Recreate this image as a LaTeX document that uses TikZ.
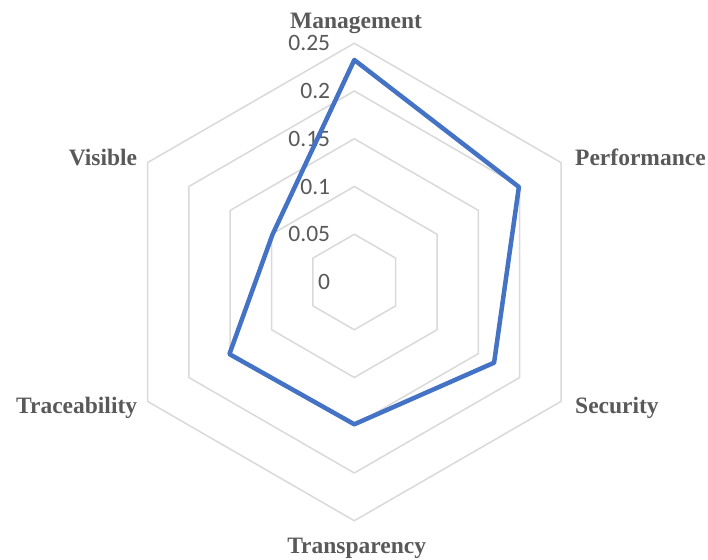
\documentclass[tikz,border=0pt]{standalone}
\usepackage{fontspec}
\setmainfont{Liberation Serif}
\newfontfamily\tickfont{Carlito}
\usepackage{xcolor}

\definecolor{gridgray}{HTML}{D9D9D9}
\definecolor{textgray}{HTML}{595959}
\definecolor{seriesblue}{HTML}{4472C4}

\begin{document}
\begin{tikzpicture}[x=1pt, y=1pt,
		axislabel/.style={text=textgray, font=\fontsize{23.5}{28}\selectfont\bfseries, inner sep=0pt},
		ticklabel/.style={text=textgray, font=\tickfont\fontsize{23.5}{28}\selectfont, anchor=east, inner sep=0pt}]
		\useasboundingbox (-354.3,-277) rectangle (353.7,282);

		% Grid hexagons
		\foreach \r in {1,...,5} {
			\draw[gridgray, line width=1.5pt, line join=round] (90:47.75*\r)
				\foreach \a in {30,-30,-90,-150,150} { -- (\a:47.75*\r) } -- cycle;
		}

		% Tick labels
		\foreach \r/\t in {0/0, 1/0.05, 2/0.1, 3/0.15, 4/0.2, 5/0.25} {
			\node[ticklabel] (tick\r) at (-24, 47.75*\r) {\t};
		}

		% Axis labels
		\node[axislabel, anchor=base] (management) at (1.7,253.7) {Management};
		\node[axislabel, anchor=base west] (performance) at (220.7,116) {Performance};
		\node[axislabel, anchor=base west] (security) at (220.7,-131) {Security};
		\node[axislabel, anchor=base] (transparency) at (2.4,-271) {Transparency};
		\node[axislabel, anchor=base east] (traceability) at (-217,-131) {Traceability};
		\node[axislabel, anchor=base east] (visible) at (-217,116) {Visible};

		% Data series
		\foreach \a/\v [count=\i] in {90/0.2325, 30/0.199, -30/0.169, -90/0.149, -150/0.151, 150/0.099} {
			\coordinate (p\i) at (\a:955*\v);
		}
		\draw[seriesblue, line width=4.5pt, line join=round] (p1) -- (p2) -- (p3) -- (p4) -- (p5) -- (p6) -- cycle;
	\end{tikzpicture}
\end{document}
